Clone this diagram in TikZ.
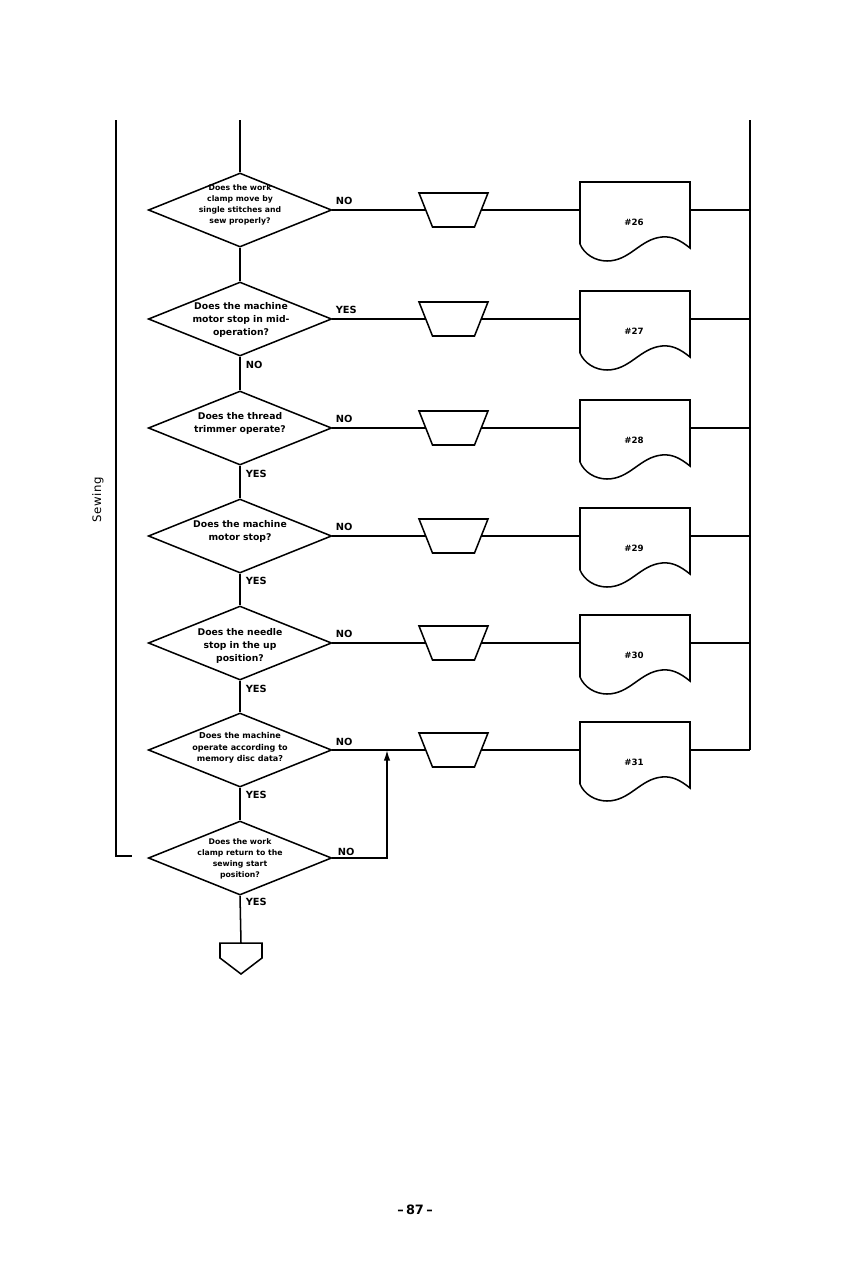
\documentclass[tikz,border=0pt]{standalone}
\usepackage{fontspec}
\setmainfont{DejaVu Sans}
\usetikzlibrary{shapes.geometric,arrows.meta}
\begin{document}
\begin{tikzpicture}[x=0.03cm,y=-0.03cm, line width=1.3pt,
  dec/.style={diamond, draw, minimum width=5.5cm, minimum height=2.22cm, inner sep=0pt},
  dtext/.style={align=center, font=\fontsize{7.9}{11}\selectfont\bfseries, inner sep=0pt},
  dsmall/.style={align=center, font=\fontsize{6.6}{9.2}\selectfont\bfseries, inner sep=0pt},
  lab/.style={font=\fontsize{8.4}{11}\selectfont\bfseries, inner sep=0pt, anchor=west},
  doctext/.style={font=\fontsize{7.4}{10}\selectfont\bfseries, inner sep=1pt}
]
\useasboundingbox (0,0) rectangle (861,1262);

% decisions
\node[dec] (d1) at (240,210) {};
\node[dsmall] (q1) at (240,205) {Does the work\\clamp move by\\single stitches and\\sew properly?};
\node[dec] (d2) at (240,319) {};
\node[dtext] (q2) at (241,320) {Does the machine\\motor stop in mid-\\operation?};
\node[dec] (d3) at (240,428) {};
\node[dtext] (q3) at (240,423) {Does the thread\\trimmer operate?};
\node[dec] (d4) at (240,536) {};
\node[dtext] (q4) at (240,531) {Does the machine\\motor stop?};
\node[dec] (d5) at (240,643) {};
\node[dtext] (q5) at (240,646) {Does the needle\\stop in the up\\position?};
\node[dec] (d6) at (240,750) {};
\node[dsmall, font=\fontsize{6.9}{9.9}\selectfont\bfseries] (q6) at (240,748) {Does the machine\\operate according to\\memory disc data?};
\node[dec] (d7) at (240,858) {};
\node[dsmall] (q7) at (240,859) {Does the work\\clamp return to the\\sewing start\\position?};

% frame lines
\coordinate (mt) at (240,120);
\coordinate (rt) at (750,120);
\coordinate (rb) at (750,750);
\coordinate (lt) at (116,120);
\coordinate (lb) at (116,856);
\coordinate (lr) at (132,856);
\draw (mt) -- (d1.north);
\draw (rt) -- (rb);
\draw (lt) -- (lb) -- (lr);

% vertical flow
\draw (d1.south) -- (d2.north);
\draw (d2.south) -- (d3.north);
\draw (d3.south) -- (d4.north);
\draw (d4.south) -- (d5.north);
\draw (d5.south) -- (d6.north);
\draw (d6.south) -- (d7.north);

% rows: manual operation + document
\foreach \i/\Y/\n in {1/210/26, 2/319/27, 3/428/28, 4/536/29, 5/643/30, 6/750/31} {
  \draw (419,{\Y-17}) -- (488,{\Y-17}) -- (474.5,{\Y+17}) -- (432.5,{\Y+17}) -- cycle;
  \coordinate (tw\i) at (425.75,\Y);
  \coordinate (te\i) at (481.25,\Y);
  \coordinate (cw\i) at (580,\Y);
  \coordinate (ce\i) at (690,\Y);
  \node[doctext] (c\i) at (634,{\Y+12}) {\#\n};
  \draw (580,{\Y-28}) -- (690,{\Y-28}) -- (690,{\Y+38})
     .. controls (680,{\Y+30}) and (672,{\Y+26}) .. (662,{\Y+27})
     .. controls (640,{\Y+29}) and (630,{\Y+51}) .. (607,{\Y+51})
     .. controls (595,{\Y+51}) and (584,{\Y+44}) .. (580,{\Y+34}) -- cycle;
  \draw (d\i.east) -- (tw\i);
  \draw (te\i) -- (cw\i);
  \draw (ce\i) -- (ce\i -| rt);
}

% return arrow
\coordinate (ar) at (387,858);
\draw[-{Latex[length=9pt,width=5.5pt]}] (d7.east) -- (ar) -- (ar |- d6.east);

% end connector
\coordinate (et) at (241,943);
\draw (d7.south) -- (et);
\draw (220,943) -- (262,943) -- (262,958) -- (241,974) -- (220,958) -- cycle;

% labels
\node[lab] at (335,201) {NO};
\node[lab] at (335,310) {YES};
\node[lab] at (245,365) {NO};
\node[lab] at (335,419) {NO};
\node[lab] at (245,474) {YES};
\node[lab] at (335,527) {NO};
\node[lab] at (245,581) {YES};
\node[lab] at (335,634) {NO};
\node[lab] at (245,689) {YES};
\node[lab] at (335,742) {NO};
\node[lab] at (245,795) {YES};
\node[lab] at (337,852) {NO};
\node[lab] at (245,902) {YES};

\node[rotate=90, font=\fontsize{10}{13}\selectfont] (sew) at (98,500) {S\kern0.5pt e\kern0.5pt w\kern0.5pt i\kern0.5pt n\kern0.5pt g};
\node[font=\fontsize{11}{13}\selectfont\bfseries] (pg) at (415,1210) {\textendash\hspace{2pt}87\hspace{2pt}\textendash};
\end{tikzpicture}
\end{document}
